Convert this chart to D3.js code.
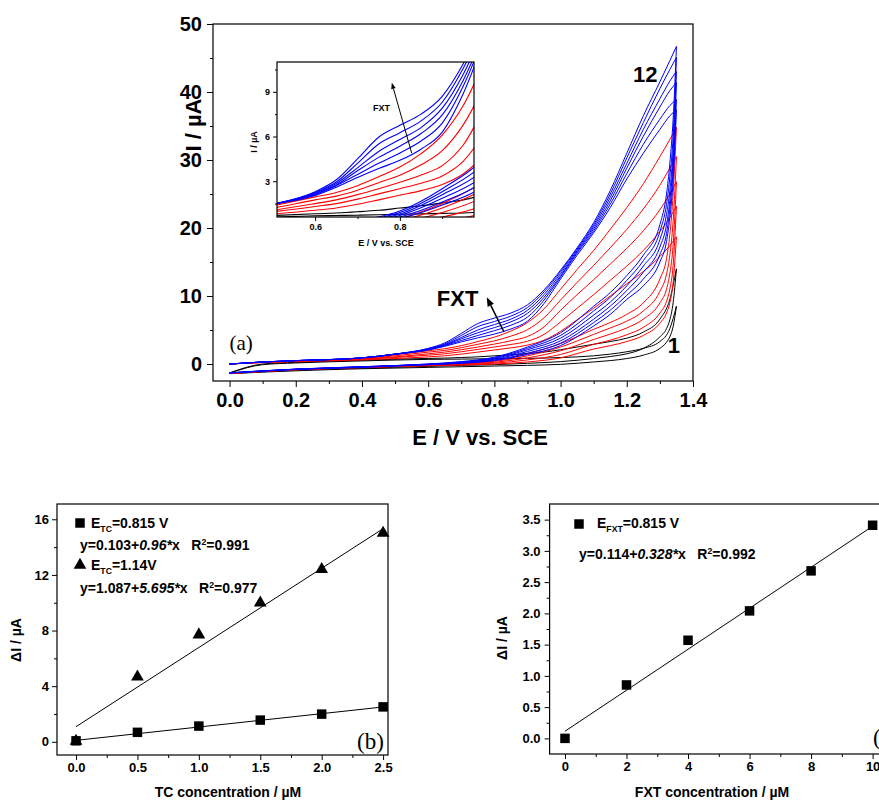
<!DOCTYPE html>
<html>
<head>
<meta charset="utf-8">
<script src="https://cdn.jsdelivr.net/npm/d3@7"></script>
<style>
  body { margin: 0; background: #fff; }
  svg { display: block; }
</style>
</head>
<body>
<svg id="fig" width="879" height="802"></svg>
<script>
// ---- panel (a): cyclic voltammograms ----
// forward (upper) branch potentials, V
const E_FWD = [0, 0.1, 0.2, 0.4, 0.5, 0.6, 0.65, 0.7, 0.75, 0.8, 0.85, 0.9, 0.95, 1.0, 1.05, 1.1, 1.15, 1.2, 1.25, 1.3, 1.33, 1.35];
// reverse (lower) branch potentials, V
const E_REV = [0, 0.2, 0.4, 0.6, 0.7, 0.8, 0.9, 1.0, 1.1, 1.15, 1.2, 1.25, 1.3, 1.32, 1.33, 1.34, 1.35];

// currents in µA
const blackFwd = [
  [-1.3, 0.0, 0.25, 0.55, 0.7, 0.82, 0.87, 0.95, 1.05, 1.2, 1.35, 1.55, 1.75, 2.1, 2.5, 2.9, 3.3, 3.8, 4.7, 6.6, 9.5, 14.0],
  [-1.35, -0.1, 0.15, 0.45, 0.58, 0.68, 0.7, 0.72, 0.75, 0.78, 0.81, 0.84, 0.87, 0.95, 1.05, 1.2, 1.45, 1.8, 2.3, 3.3, 5.2, 8.5]
];
const blackRev = [
  [-1.4, -0.9, -0.6, -0.35, -0.2, -0.1, 0.1, 0.35, 0.8, 1.1, 1.5, 2.3, 4.0, 5.2, 6.5, 9.0, 14.0],
  [-1.42, -1.0, -0.7, -0.5, -0.4, -0.3, -0.2, -0.05, 0.3, 0.5, 0.8, 1.3, 2.3, 3.2, 4.0, 5.5, 8.5]
];
const redFwd = [
  [0, 0.25, 0.45, 0.8, 1.35, 1.95, 2.25, 2.7, 3.3, 3.95, 4.85, 6.1, 8.1, 11.0, 13.9, 16.7, 19.8, 23.0, 26.5, 30.5, 33.0, 34.8],
  [0, 0.25, 0.45, 0.8, 1.2, 1.75, 2.0, 2.4, 2.9, 3.4, 4.1, 5.05, 6.8, 9.4, 12.0, 14.5, 17.1, 19.8, 22.8, 26.3, 28.8, 30.5],
  [0, 0.25, 0.45, 0.75, 1.05, 1.5, 1.75, 2.1, 2.5, 2.93, 3.42, 4.05, 5.45, 7.9, 10.2, 12.4, 14.7, 17.0, 19.6, 22.7, 25.0, 26.8],
  [0, 0.25, 0.4, 0.7, 0.95, 1.3, 1.5, 1.8, 2.15, 2.5, 2.87, 3.35, 4.35, 6.2, 8.2, 10.2, 12.3, 14.4, 16.7, 19.5, 21.5, 23.2],
  [0, 0.2, 0.35, 0.6, 0.8, 1.05, 1.2, 1.45, 1.75, 2.06, 2.37, 2.78, 3.5, 4.8, 6.5, 8.2, 10.0, 11.8, 13.6, 15.8, 17.4, 18.7]
];
const redRev = [
  [-1.35, -0.8, -0.45, -0.1, 0.1, 0.5, 1.5, 3.0, 5.1, 6.1, 7.3, 9.0, 12.5, 15.5, 19.0, 25.0, 34.8],
  [-1.35, -0.82, -0.47, -0.14, 0.05, 0.38, 1.2, 2.5, 4.35, 5.3, 6.3, 7.8, 10.7, 13.2, 16.0, 21.0, 30.5],
  [-1.36, -0.83, -0.49, -0.18, 0.0, 0.25, 0.9, 1.95, 3.6, 4.4, 5.3, 6.6, 9.0, 11.0, 13.3, 17.5, 26.8],
  [-1.37, -0.84, -0.5, -0.22, -0.08, 0.12, 0.6, 1.4, 2.9, 3.5, 4.3, 5.4, 7.5, 9.2, 11.0, 14.5, 23.2],
  [-1.38, -0.85, -0.52, -0.25, -0.15, 0.0, 0.3, 0.9, 2.2, 2.7, 3.3, 4.2, 6.0, 7.5, 9.0, 12.0, 18.7]
];
const blueFwd = [
  [0, 0.3, 0.5, 0.9, 1.45, 2.3, 3.1, 4.5, 5.95, 6.75, 7.5, 8.7, 10.9, 13.8, 17.1, 20.8, 25.5, 31.0, 36.5, 41.5, 44.6, 46.7],
  [0, 0.3, 0.5, 0.9, 1.45, 2.25, 2.95, 4.2, 5.5, 6.25, 7.05, 8.3, 10.6, 13.6, 16.9, 20.5, 25.0, 30.3, 35.5, 40.5, 43.3, 45.1],
  [0, 0.3, 0.5, 0.9, 1.45, 2.2, 2.85, 3.9, 5.0, 5.8, 6.6, 7.9, 10.2, 13.3, 16.7, 20.2, 24.5, 29.5, 34.5, 39.0, 41.6, 43.0],
  [0, 0.3, 0.5, 0.9, 1.45, 2.15, 2.75, 3.7, 4.6, 5.35, 6.2, 7.45, 9.8, 13.0, 16.5, 19.9, 24.0, 28.8, 33.5, 37.8, 40.2, 41.4],
  [0, 0.3, 0.5, 0.9, 1.45, 2.1, 2.7, 3.45, 4.2, 4.9, 5.7, 6.9, 9.4, 12.8, 16.3, 19.6, 23.5, 28.0, 32.3, 36.0, 38.0, 38.9],
  [0, 0.3, 0.5, 0.9, 1.45, 2.05, 2.6, 3.25, 3.85, 4.4, 5.15, 6.3, 8.9, 12.5, 16.0, 19.3, 23.0, 27.2, 31.0, 34.5, 36.5, 37.4]
];
const blueRev = [
  [-1.3, -0.75, -0.4, 0.0, 0.35, 1.0, 2.5, 4.6, 8.5, 10.5, 13.0, 16.0, 20.5, 25.0, 29.5, 36.0, 46.7],
  [-1.3, -0.75, -0.4, -0.02, 0.3, 0.9, 2.3, 4.2, 7.8, 9.8, 12.3, 15.2, 19.5, 23.5, 27.5, 33.5, 45.1],
  [-1.3, -0.77, -0.42, -0.04, 0.25, 0.8, 2.1, 3.8, 7.2, 9.1, 11.5, 14.4, 18.3, 22.0, 25.5, 31.5, 43.0],
  [-1.32, -0.78, -0.44, -0.06, 0.2, 0.7, 1.85, 3.4, 6.6, 8.5, 10.8, 13.5, 17.2, 20.5, 24.0, 30.0, 41.4],
  [-1.33, -0.79, -0.47, -0.08, 0.15, 0.6, 1.6, 3.05, 6.1, 7.9, 10.1, 12.5, 16.1, 19.2, 22.8, 28.5, 38.9],
  [-1.35, -0.8, -0.5, -0.1, 0.1, 0.5, 1.4, 2.7, 5.6, 7.3, 9.5, 11.5, 15.0, 18.0, 21.5, 27.0, 37.4]
];

const aXTicks = [0, 0.2, 0.4, 0.6, 0.8, 1.0, 1.2, 1.4];
const aXMinor = [0.1, 0.3, 0.5, 0.7, 0.9, 1.1, 1.3];
const aYTicks = [0, 10, 20, 30, 40, 50];
const aYMinor = [5, 15, 25, 35, 45];
const insetXTicks = [0.6, 0.8];
const insetXMinor = [0.7, 0.9];
const insetYTicks = [3, 6, 9];
const insetYMinor = [1.5, 4.5, 7.5, 10.5];

// ---- panel (b) ----
const tcConc = [0, 0.5, 1.0, 1.5, 2.0, 2.5];
const dI_tc0815 = [0.07, 0.68, 1.13, 1.56, 1.99, 2.51];
const dI_tc114 = [0.05, 4.67, 7.7, 10.0, 12.4, 15.0];
const fit_tc0815 = [0.103, 0.96];   // intercept, slope
const fit_tc114 = [1.087, 5.695];
const bXTicks = [0, 0.5, 1.0, 1.5, 2.0, 2.5];
const bXMinor = [0.25, 0.75, 1.25, 1.75, 2.25];
const bYTicks = [0, 4, 8, 12, 16];
const bYMinor = [2, 6, 10, 14];

// ---- panel (c) ----
const fxtConc = [0, 2, 4, 6, 8, 10];
const dI_fxt = [0.0, 0.855, 1.57, 2.04, 2.68, 3.41];
const fit_fxt = [0.114, 0.328];
const cXTicks = [0, 2, 4, 6, 8, 10];
const cXMinor = [1, 3, 5, 7, 9];
const cYTicks = [0, 0.5, 1.0, 1.5, 2.0, 2.5, 3.0, 3.5];
const cYMinor = [0.25, 0.75, 1.25, 1.75, 2.25, 2.75, 3.25];

const FONT = '"Liberation Sans", Arial, sans-serif';
const SERIF = '"Liberation Serif", "Times New Roman", serif';

const svg = d3.select('#fig');
svg.append('rect').attr('width', 879).attr('height', 802).attr('fill', '#fff');

// axis with major + minor ticks, no domain line (the frame draws it)
function axis(parent, scale, side, pos, majors, minors, fmt, fs, majLen, minLen, pad) {
  const mk = side === 'bottom' ? d3.axisBottom : d3.axisLeft;
  const tr = side === 'bottom' ? `translate(0,${pos})` : `translate(${pos},0)`;
  const gMin = parent.append('g').attr('transform', tr)
    .call(mk(scale).tickValues(minors).tickSize(minLen).tickFormat(''));
  gMin.select('.domain').remove();
  const gMaj = parent.append('g').attr('transform', tr)
    .call(mk(scale).tickValues(majors).tickSize(majLen).tickPadding(pad).tickFormat(fmt));
  gMaj.select('.domain').remove();
  gMaj.attr('font-family', FONT).attr('font-size', fs).attr('font-weight', 'bold');
  gMaj.selectAll('text').attr('fill', '#000');
  parent.selectAll('.tick line').attr('stroke', '#000').attr('stroke-width', 1);
}

function frame(parent, x, y) {
  const [x0, x1] = x.range(), [y0, y1] = y.range();
  parent.append('rect')
    .attr('x', Math.min(x0, x1)).attr('y', Math.min(y0, y1))
    .attr('width', Math.abs(x1 - x0)).attr('height', Math.abs(y1 - y0))
    .attr('fill', 'none').attr('stroke', '#000').attr('stroke-width', 1.2);
}

function arrow(parent, p0, p1, headLen, headW, sw) {
  const dx = p1[0] - p0[0], dy = p1[1] - p0[1];
  const L = Math.hypot(dx, dy), ux = dx / L, uy = dy / L;
  const bx = p1[0] - ux * headLen, by = p1[1] - uy * headLen;
  parent.append('line')
    .attr('x1', p0[0]).attr('y1', p0[1]).attr('x2', bx).attr('y2', by)
    .attr('stroke', '#000').attr('stroke-width', sw);
  parent.append('path')
    .attr('d', `M${p1[0]},${p1[1]}L${bx - uy * headW},${by + ux * headW}L${bx + uy * headW},${by - ux * headW}Z`)
    .attr('fill', '#000');
}

const cvSets = [
  { fwd: blackFwd, rev: blackRev, color: '#000000' },
  { fwd: redFwd, rev: redRev, color: '#ff0000' },
  { fwd: blueFwd, rev: blueRev, color: '#0000ff' }
];

function drawCV(parent, x, y, sw) {
  const line = d3.line().x(d => x(d[0])).y(d => y(d[1])).curve(d3.curveMonotoneX);
  cvSets.forEach(s => {
    s.fwd.forEach(v => parent.append('path').attr('d', line(d3.zip(E_FWD, v)))
      .attr('fill', 'none').attr('stroke', s.color).attr('stroke-width', sw));
    s.rev.forEach(v => parent.append('path').attr('d', line(d3.zip(E_REV, v)))
      .attr('fill', 'none').attr('stroke', s.color).attr('stroke-width', sw));
  });
}

function boldText(parent, x, y, txt, fs, anchor) {
  return parent.append('text').attr('x', x).attr('y', y).text(txt)
    .attr('font-family', FONT).attr('font-weight', 'bold').attr('font-size', fs)
    .attr('text-anchor', anchor || 'start').attr('fill', '#000');
}

// rich legend text: parts of {t, sub, sup, it}
function richText(parent, x, y, parts, fs) {
  const t = parent.append('text').attr('x', x).attr('y', y)
    .attr('font-family', FONT).attr('font-weight', 'bold').attr('font-size', fs)
    .attr('fill', '#000').style('white-space', 'pre');
  let shift = 0;
  parts.forEach(p => {
    const target = p.sub ? fs * 0.3 : p.sup ? -fs * 0.38 : 0;
    const ts = t.append('tspan').text(p.t).attr('dy', target - shift);
    shift = target;
    if (p.sub || p.sup) ts.attr('font-size', fs * 0.62);
    if (p.it) ts.attr('font-style', 'italic');
  });
  return t;
}

// =============== panel (a) ===============
const gA = svg.append('g');
const xA = d3.scaleLinear().domain([-0.05, 1.4]).range([213, 693]);
const yA = d3.scaleLinear().domain([-2.5, 50]).range([381, 24]);

axis(gA, xA, 'bottom', 381, aXTicks, aXMinor, d3.format('.1f'), 20, 6, 3, 6);
axis(gA, yA, 'left', 213, aYTicks, aYMinor, d3.format('d'), 20, 6, 3, 5);

gA.append('clipPath').attr('id', 'clipA').append('rect')
  .attr('x', 213).attr('y', 24).attr('width', 480).attr('height', 357);
drawCV(gA.append('g').attr('clip-path', 'url(#clipA)'), xA, yA, 1);
frame(gA, xA, yA);

boldText(gA, 480, 445, 'E / V vs. SCE', 22, 'middle');
boldText(gA, 0, 0, 'I / µA', 22, 'middle').attr('transform', 'translate(201,125) rotate(-90)');
boldText(gA, xA(1.219), yA(41.5), '12', 22);
boldText(gA, xA(1.324), yA(1.6), '1', 22);
boldText(gA, xA(0.626), yA(8.5), 'FXT', 22);
gA.append('text').attr('x', xA(0.0)).attr('y', yA(2.05)).text('(a)')
  .attr('font-family', SERIF).attr('font-size', 21).attr('fill', '#000');
arrow(gA, [xA(0.829), yA(4.7)], [xA(0.777), yA(9.8)], 9, 3.5, 1.5);

// inset
const gI = svg.append('g');
const xI = d3.scaleLinear().domain([0.51, 0.975]).range([277, 474]);
const yI = d3.scaleLinear().domain([0.6, 11]).range([217, 62]);
gI.append('rect').attr('x', 277).attr('y', 62).attr('width', 197).attr('height', 155).attr('fill', '#fff');
gI.append('clipPath').attr('id', 'clipI').append('rect')
  .attr('x', 277).attr('y', 62).attr('width', 197).attr('height', 155);
drawCV(gI.append('g').attr('clip-path', 'url(#clipI)'), xI, yI, 1.1);
axis(gI, xI, 'bottom', 217, insetXTicks, insetXMinor, d3.format('.1f'), 9, 4, 2, 3);
axis(gI, yI, 'left', 277, insetYTicks, insetYMinor, d3.format('d'), 9, 4, 2, 3);
frame(gI, xI, yI);
boldText(gI, 386, 246, 'E / V vs. SCE', 9, 'middle');
boldText(gI, 0, 0, 'I / µA', 9, 'middle').attr('transform', 'translate(257,142) rotate(-90)');
boldText(gI, 373, 111, 'FXT', 9);
arrow(gI, [xI(0.828), yI(4.88)], [xI(0.781), yI(9.6)], 6, 2.3, 1);

// =============== panel (b) ===============
const gB = svg.append('g');
const xB = d3.scaleLinear().domain([-0.155, 2.54]).range([57, 388]);
const yB = d3.scaleLinear().domain([-0.95, 17.1]).range([755, 504]);
axis(gB, xB, 'bottom', 755, bXTicks, bXMinor, d3.format('.1f'), 13, 5, 3, 3);
axis(gB, yB, 'left', 57, bYTicks, bYMinor, d3.format('d'), 13, 5, 3, 3);
frame(gB, xB, yB);

[fit_tc0815, fit_tc114].forEach(f => {
  const ext = d3.extent(tcConc);
  gB.append('line')
    .attr('x1', xB(ext[0])).attr('y1', yB(f[0] + f[1] * ext[0]))
    .attr('x2', xB(ext[1])).attr('y2', yB(f[0] + f[1] * ext[1]))
    .attr('stroke', '#000').attr('stroke-width', 1);
});
const sq = d3.symbol().type(d3.symbolSquare).size(90);
const tri = d3.symbol().type(d3.symbolTriangle).size(70);
gB.selectAll('.tri').data(d3.zip(tcConc, dI_tc114)).join('path')
  .attr('d', tri).attr('transform', d => `translate(${xB(d[0])},${yB(d[1])})`).attr('fill', '#000');
gB.selectAll('.sq').data(d3.zip(tcConc, dI_tc0815)).join('path')
  .attr('d', sq).attr('transform', d => `translate(${xB(d[0])},${yB(d[1])})`).attr('fill', '#000');

gB.append('path').attr('d', sq).attr('transform', 'translate(80,523)').attr('fill', '#000');
richText(gB, 91, 528, [{ t: 'E' }, { t: 'TC', sub: true }, { t: '=0.815 V' }], 14);
richText(gB, 80, 550, [{ t: 'y=0.103+' }, { t: '0.96*', it: true }, { t: 'x   R' }, { t: '2', sup: true }, { t: '=0.991' }], 14);
gB.append('path').attr('d', tri).attr('transform', 'translate(80,565)').attr('fill', '#000');
richText(gB, 91, 570, [{ t: 'E' }, { t: 'TC', sub: true }, { t: '=1.14V' }], 14);
richText(gB, 80, 593, [{ t: 'y=1.087+' }, { t: '5.695*', it: true }, { t: 'x   R' }, { t: '2', sup: true }, { t: '=0.977' }], 14);

boldText(gB, 228, 797, 'TC concentration / µM', 14, 'middle');
boldText(gB, 0, 0, 'ΔI / µA', 14, 'middle').attr('transform', 'translate(21,640) rotate(-90)');
gB.append('text').attr('x', 357).attr('y', 749).text('(b)')
  .attr('font-family', SERIF).attr('font-size', 23).attr('fill', '#000');

// =============== panel (c) ===============
const gC = svg.append('g');
const xC = d3.scaleLinear().domain([-0.5, 10.5]).range([549.6, 888]);
const yC = d3.scaleLinear().domain([-0.25, 3.75]).range([754, 504]);
axis(gC, xC, 'bottom', 754, cXTicks, cXMinor, d3.format('d'), 13, 5, 3, 3);
axis(gC, yC, 'left', 549.6, cYTicks, cYMinor, d3.format('.1f'), 13, 5, 3, 4);
frame(gC, xC, yC);

{
  const ext = d3.extent(fxtConc);
  gC.append('line')
    .attr('x1', xC(ext[0])).attr('y1', yC(fit_fxt[0] + fit_fxt[1] * ext[0]))
    .attr('x2', xC(ext[1])).attr('y2', yC(fit_fxt[0] + fit_fxt[1] * ext[1]))
    .attr('stroke', '#000').attr('stroke-width', 1);
}
gC.selectAll('.sq').data(d3.zip(fxtConc, dI_fxt)).join('path')
  .attr('d', sq).attr('transform', d => `translate(${xC(d[0])},${yC(d[1])})`).attr('fill', '#000');

gC.append('path').attr('d', sq).attr('transform', 'translate(579,524)').attr('fill', '#000');
richText(gC, 597, 528, [{ t: 'E' }, { t: 'FXT', sub: true }, { t: '=0.815 V' }], 14);
richText(gC, 579, 559, [{ t: 'y=0.114+' }, { t: '0.328*', it: true }, { t: 'x   R' }, { t: '2', sup: true }, { t: '=0.992' }], 14);

boldText(gC, 712, 797, 'FXT concentration / µM', 14, 'middle');
boldText(gC, 0, 0, 'ΔI / µA', 14, 'middle').attr('transform', 'translate(507,638) rotate(-90)');
gC.append('text').attr('x', 873).attr('y', 745).text('(c)')
  .attr('font-family', SERIF).attr('font-size', 23).attr('fill', '#000');
</script>
</body>
</html>
